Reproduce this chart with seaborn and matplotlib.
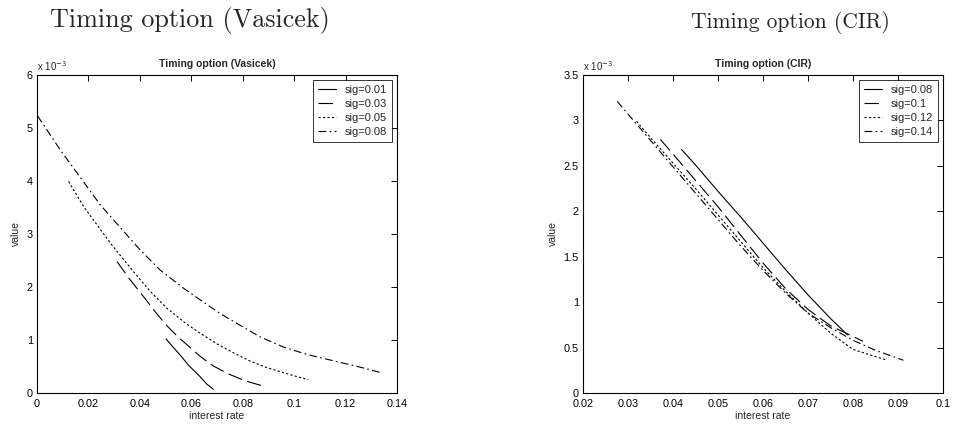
import numpy as np
import pandas as pd
import matplotlib
matplotlib.use("Agg")
import matplotlib.pyplot as plt
from matplotlib.ticker import FormatStrFormatter, MultipleLocator
import seaborn as sns

# ---------------- data (values in units of 1e-3) ----------------
vas_labels = ["sig=0.01", "sig=0.03", "sig=0.05", "sig=0.08"]
vas_x_01 = [0.0502, 0.0530, 0.0556, 0.0590, 0.0634, 0.0660, 0.0686]
vas_y_01 = [1.02, 0.86, 0.72, 0.52, 0.31, 0.17, 0.07]
vas_x_03 = [0.0311, 0.0360, 0.0414, 0.0460, 0.0505, 0.0550, 0.0595, 0.0640,
            0.0686, 0.0740, 0.0789, 0.0830, 0.0874]
vas_y_03 = [2.48, 2.15, 1.82, 1.53, 1.27, 1.05, 0.86, 0.67,
            0.51, 0.37, 0.27, 0.20, 0.14]
vas_x_05 = [0.0123, 0.0181, 0.0285, 0.0375, 0.0440, 0.0505, 0.0582, 0.0634,
            0.0699, 0.0763, 0.0830, 0.0893, 0.0996, 0.1055]
vas_y_05 = [3.99, 3.52, 2.83, 2.29, 1.92, 1.60, 1.30, 1.13,
            0.93, 0.76, 0.60, 0.48, 0.33, 0.25]
vas_x_08 = [0.0002, 0.0090, 0.0246, 0.0401, 0.0479, 0.0569, 0.0634, 0.0712,
            0.0789, 0.0867, 0.0957, 0.1048, 0.1151, 0.1255, 0.1333]
vas_y_08 = [5.23, 4.59, 3.55, 2.70, 2.32, 1.98, 1.76, 1.50,
            1.28, 1.06, 0.87, 0.73, 0.61, 0.49, 0.39]

cir_labels = ["sig=0.08", "sig=0.1", "sig=0.12", "sig=0.14"]
cir_x_08 = [0.0419, 0.045, 0.050, 0.055, 0.060, 0.065, 0.070, 0.075, 0.0788]
cir_y_08 = [2.68, 2.51, 2.22, 1.94, 1.65, 1.36, 1.08, 0.82, 0.64]
cir_x_10 = [0.0372, 0.040, 0.045, 0.050, 0.055, 0.060, 0.065, 0.070, 0.075, 0.0822]
cir_y_10 = [2.79, 2.63, 2.34, 2.05, 1.74, 1.43, 1.15, 0.92, 0.74, 0.57]
cir_x_12 = [0.0319, 0.035, 0.040, 0.045, 0.050, 0.055, 0.060, 0.065, 0.070, 0.075, 0.080, 0.0876]
cir_y_12 = [2.99, 2.81, 2.53, 2.25, 1.96, 1.67, 1.38, 1.12, 0.88, 0.66, 0.48, 0.36]
cir_x_14 = [0.0276, 0.030, 0.035, 0.040, 0.045, 0.050, 0.055, 0.060, 0.065, 0.070,
            0.075, 0.080, 0.085, 0.0912]
cir_y_14 = [3.21, 3.07, 2.78, 2.49, 2.20, 1.91, 1.62, 1.35, 1.10, 0.88,
            0.72, 0.58, 0.47, 0.36]

vas_series = [(vas_x_01, vas_y_01), (vas_x_03, vas_y_03), (vas_x_05, vas_y_05), (vas_x_08, vas_y_08)]
cir_series = [(cir_x_08, cir_y_08), (cir_x_10, cir_y_10), (cir_x_12, cir_y_12), (cir_x_14, cir_y_14)]

# ---------------- style ----------------
sns.set_style("white")
plt.rcParams["font.family"] = ["Liberation Sans", "DejaVu Sans"]

styles = ["-", (0, (13, 5)), (0, (2, 2)), (0, (7, 3, 1.5, 3))]

fig = plt.figure(figsize=(9.56, 4.29), dpi=100)
W, H = 956, 429

def add_ax(x0, x1, y0, y1):
    return fig.add_axes([x0 / W, 1 - y1 / H, (x1 - x0) / W, (y1 - y0) / H])

ax1 = add_ax(37, 397, 75, 393)
ax2 = add_ax(583, 943, 75, 393)

def draw(ax, series, labels, title, xlim, xstep, ylim, ystep):
    for (xs, ys), lab, ls in zip(series, labels, styles):
        df = pd.DataFrame({"x": xs, "y": ys})
        sns.lineplot(data=df, x="x", y="y", ax=ax, color="black", lw=0.8,
                     linestyle=ls, label=lab, sort=False, estimator=None)
    ax.set_xlim(*xlim)
    ax.set_ylim(*ylim)
    ax.xaxis.set_major_locator(MultipleLocator(xstep))
    ax.yaxis.set_major_locator(MultipleLocator(ystep))
    ax.xaxis.set_major_formatter(FormatStrFormatter("%g"))
    ax.yaxis.set_major_formatter(FormatStrFormatter("%g"))
    ax.tick_params(direction="in", top=True, right=True, length=4, width=0.7,
                   labelsize=7.8, colors="black")
    ax.tick_params(axis="x", pad=4)
    ax.tick_params(axis="y", pad=3)
    for sp in ax.spines.values():
        sp.set_visible(True)
        sp.set_color("black")
        sp.set_linewidth(0.8)
    ax.set_xlabel("interest rate", fontsize=7.5, labelpad=2)
    ax.set_ylabel("value", fontsize=7.5, labelpad=4)
    ax.set_title(title, fontsize=7.5, fontweight="bold", pad=6)
    ax.text(0.0, 1.005, r"x 10$^{-3}$", transform=ax.transAxes, fontsize=7,
            ha="left", va="bottom")
    leg = ax.legend(loc="upper right", fontsize=8, frameon=True, fancybox=False,
                    handlelength=1.6, handletextpad=0.8, borderpad=0.45,
                    labelspacing=0.35, borderaxespad=0.45)
    leg.get_frame().set_edgecolor("black")
    leg.get_frame().set_linewidth(0.7)

draw(ax1, vas_series, vas_labels, "Timing option (Vasicek)", (0, 0.14), 0.02, (0, 6), 1)
draw(ax2, cir_series, cir_labels, "Timing option (CIR)", (0.02, 0.1), 0.01, (0, 3.5), 0.5)

fig.text(190 / W, 1 - 27 / H, "Timing option (Vasicek)", family="cmr10",
         fontsize=18.8, ha="center", va="baseline")
fig.text(790 / W, 1 - 28 / H, "Timing option (CIR)", family="cmr10",
         fontsize=15.5, ha="center", va="baseline")

fig.savefig("out.png", dpi=100)
